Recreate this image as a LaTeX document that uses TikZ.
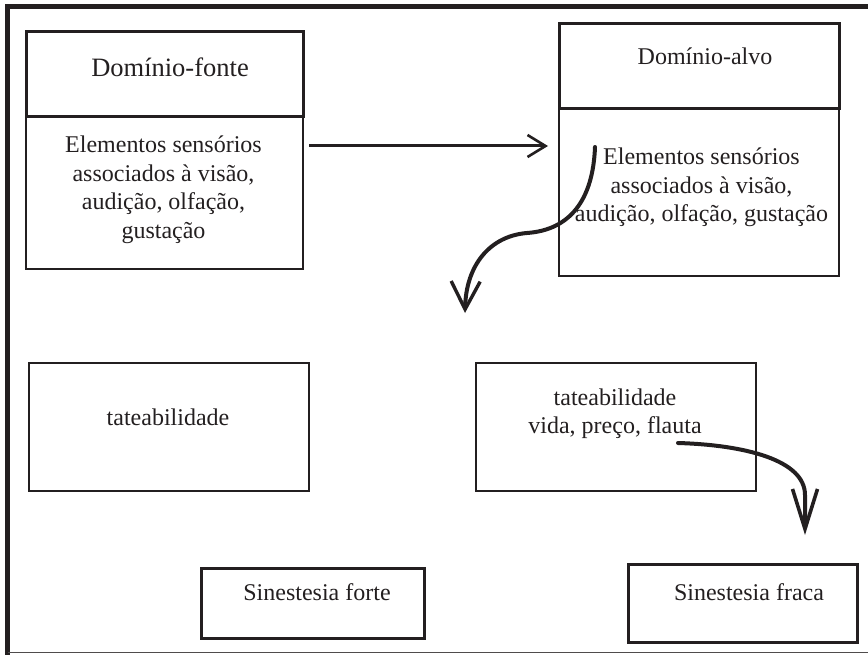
\documentclass[tikz,border=0pt]{standalone}
\usepackage{fontspec}
\setmainfont{Liberation Serif}
\usetikzlibrary{arrows.meta}
\definecolor{inkc}{HTML}{231F20}
\begin{document}
\begin{tikzpicture}[x=1pt,y=-1pt,
  box/.style={draw=inkc, line width=2.3pt, inner sep=0pt, anchor=north west},
  hbox/.style={draw=inkc, line width=3.3pt, inner sep=0pt, anchor=north west},
  txt/.style={font=\fontsize{24}{28.5}\selectfont, align=center, inner sep=0pt, anchor=base, text=inkc},
  bigtxt/.style={font=\fontsize{26.5}{30}\selectfont, inner sep=0pt, anchor=base, text=inkc},
  arr/.style={draw=inkc, line width=3pt, -{Straight Barb[length=18pt,width=22pt,line width=2.6pt]}},
  carr/.style={draw=inkc, line width=4pt, line cap=round}
]
\useasboundingbox (0,0) rectangle (868,655);
% frame
\draw[inkc, line width=4.5pt] (7.5,655) -- (7.5,6.5) -- (868,6.5);
\draw[inkc!80, line width=1pt] (7.5,652.5) -- (868,652.5);

% source domain
\node[hbox, minimum width=277pt, minimum height=85pt] (fh) at (25,30) {};
\node[box, minimum width=277pt, minimum height=153pt] (fb) at (25,115) {};
\node[bigtxt] (fht) at (170,77) {Domínio-fonte};
\node[txt] (fbt) at (163.5,238.5) {Elementos sensórios\\associados à visão,\\audição, olfação,\\gustação};

% target domain
\node[hbox, line width=3pt, minimum width=280pt, minimum height=85pt] (ah) at (558,22) {};
\node[box, minimum width=280pt, minimum height=168pt] (ab) at (558,107) {};
\node[txt] (aht) at (705,65) {Domínio-alvo};
\node[txt] (abt) at (701.5,222) {Elementos sensórios\\associados à visão,\\audição, olfação, gustação};

% middle row
\node[box, minimum width=280pt, minimum height=128pt] (t1) at (28,362) {};
\node[txt] (t1t) at (168,425) {tateabilidade};
\node[box, minimum width=280pt, minimum height=128pt] (t2) at (475,362) {};
\node[txt] (t2t) at (615,433.5) {tateabilidade\\vida, preço, flauta};

% bottom row
\node[box, line width=2.6pt, minimum width=223pt, minimum height=70pt] (sf) at (200,567) {};
\node[txt] (sft) at (317,600) {Sinestesia forte};
\node[box, line width=2.6pt, minimum width=229pt, minimum height=78pt] (sw) at (627,563) {};
\node[txt] (swt) at (749,600) {Sinestesia fraca};

% free ends
\coordinate (c1e) at (465,313);
\coordinate (c2e) at (805,535);

% connectors
\draw[arr] (fb.north east) ++(5,31) -- ([xshift=-10pt,yshift=-39pt]ab.north west);
\draw[carr, -{Straight Barb[length=28pt,width=29pt,line width=3.4pt]}]
  (ab.north west) ++(37,40) .. controls (593,200) and (570,230) .. (527,233)
  .. controls (490,236) and (466,265) .. (c1e);
\draw[carr, -{Straight Barb[length=40pt,width=25pt,line width=3.6pt]}]
  (t2.north west) ++(203,81) .. controls (745,445) and (805,460) .. (805,495) -- (c2e);
\end{tikzpicture}
\end{document}
